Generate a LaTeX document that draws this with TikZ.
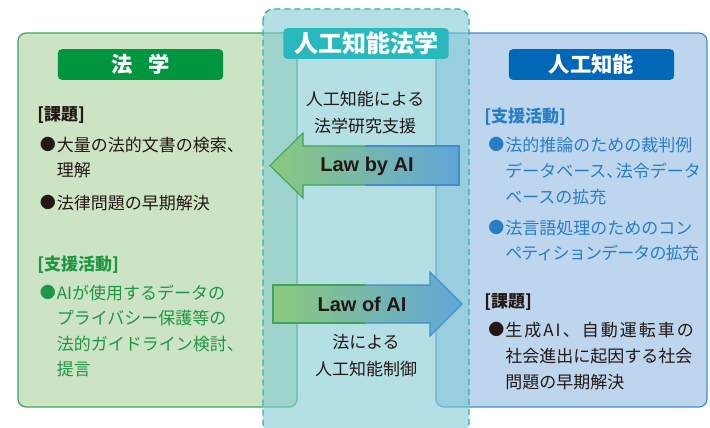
\documentclass[tikz,border=0pt]{standalone}
\usepackage{fontspec}
\setmainfont{Noto Sans CJK JP}
\newfontfamily\latinb{Liberation Sans}

\definecolor{verdeFondo}{RGB}{204,227,196}
\definecolor{verdeBorde}{RGB}{60,165,90}
\definecolor{verdeTitulo}{RGB}{0,150,64}
\definecolor{verdeTexto}{RGB}{30,150,70}
\definecolor{azulFondo}{RGB}{189,214,238}
\definecolor{azulBorde}{RGB}{70,140,200}
\definecolor{azulTitulo}{RGB}{0,104,183}
\definecolor{azulTexto}{RGB}{40,125,195}
\definecolor{turquesa}{RGB}{128,202,212}
\definecolor{turquesaBorde}{RGB}{40,180,180}
\definecolor{turquesaTitulo}{RGB}{40,184,190}
\definecolor{flechaVerde}{RGB}{140,200,126}
\definecolor{flechaAzul}{RGB}{96,166,217}
\definecolor{texto}{RGB}{35,24,21}

\newcommand{\punto}{\makebox[1em][l]{\raisebox{0.06em}{\fontsize{12}{12}\selectfont ●}}}

\tikzset{
  caja/.style={rounded corners=6pt, line width=0.9pt},
  titulo/.style={rounded corners=3pt, text=white, inner sep=0pt,
    minimum width=124pt, minimum height=23pt},
  rubro/.style={anchor=west, inner sep=0pt, font=\bfseries\fontsize{12.75}{19.2}\selectfont},
  linea/.style={anchor=west, align=left, inner sep=0pt, font=\fontsize{12.75}{19.2}\selectfont},
  nota/.style={align=center, inner sep=0pt, text=texto, font=\fontsize{12.75}{20.2}\selectfont},
  lema/.style={inner sep=0pt, text=texto, font=\latinb\bfseries\fontsize{15}{15}\selectfont},
  borde/.style={line width=0.8pt, line join=miter}
}

\begin{document}
\begin{tikzpicture}[x=0.75pt, y=-0.75pt]

    \useasboundingbox (0,0) rectangle (710,428);

    % Cajas laterales
    \draw[caja, fill=verdeFondo, draw=verdeBorde] (18,33) rectangle (297,407);
    \draw[caja, fill=azulFondo, draw=azulBorde] (436,33) rectangle (707,407);

    % Banda central
    \fill[turquesa, fill opacity=0.6, rounded corners=8pt] (263,9) rectangle (469,434);
    \draw[turquesaBorde, dashed, dash pattern=on 4.5pt off 3pt, line width=1pt,
      rounded corners=8pt] (263,9) rectangle (469,434);

    % Titulos
    \node[titulo, fill=turquesaTitulo, font=\bfseries\fontsize{18}{18}\selectfont]
      (tituloCentro) at (366,43.5) {人工知能法学};
    \node[titulo, fill=verdeTitulo, font=\bfseries\fontsize{16}{16}\selectfont]
      (tituloIzq) at (140.5,64.5) {法\hspace{0.75em}学};
    \node[titulo, fill=azulTitulo, font=\bfseries\fontsize{16}{16}\selectfont]
      (tituloDer) at (591.5,64.5) {人工知能};

    % Flecha Law by AI
    \shade[left color=flechaVerde, right color=flechaAzul]
      (459,146) -- (303,146) -- (303,133) -- (270,165.5) -- (303,198)
      -- (303,185) -- (459,185) -- cycle;
    \draw[borde, verdeBorde] (365,146) -- (303,146) -- (303,133) -- (270,165.5)
      -- (303,198) -- (303,185) -- (365,185);
    \draw[borde, azulBorde] (365,146) -- (459,146) -- (459,185) -- (365,185);
    \node[lema] (leyPorIA) at (367,166) {Law by AI};

    % Flecha Law of AI
    \shade[left color=flechaVerde, right color=flechaAzul]
      (273,285) -- (430,285) -- (430,272) -- (462,304) -- (430,336)
      -- (430,323) -- (273,323) -- cycle;
    \draw[borde, verdeBorde] (365,285) -- (273,285) -- (273,323) -- (365,323);
    \draw[borde, azulBorde] (365,285) -- (430,285) -- (430,272) -- (462,304)
      -- (430,336) -- (430,323) -- (365,323);
    \node[lema] (leyDeIA) at (362,304) {Law of AI};

    % Notas centrales
    \node[nota] (apoyo) at (365,112.5) {人工知能による\\法学研究支援};
    \node[nota] (control) at (366,356) {法による\\人工知能制御};

    % Texto izquierdo
    \node[rubro, text=texto] (problemaIzq) at (37,115) {[課題]};
    \node[linea, text=texto] (izqA) at (39.5,157.5)
      {\punto 大量の法的文書の検索、\\\hspace*{1em}理解};
    \node[linea, text=texto] (izqB) at (39.5,203) {\punto 法律問題の早期解決};
    \node[rubro, text=verdeTexto] (apoyoIzq) at (37,265) {[支援活動]};
    \node[linea, text=verdeTexto] (izqC) at (39.5,331)
      {\punto AIが使用するデータの\\\hspace*{1em}プライバシー保護等の\\
       \hspace*{1em}法的ガイドライン検討、\\\hspace*{1em}提言};

    % Texto derecho
    \node[rubro, text=azulTexto] (apoyoDer) at (484,117) {[支援活動]};
    \node[linea, text=azulTexto] (derA) at (488,171)
      {\punto 法的推論のための裁判例\\\hspace*{1em}データベース、\kern-0.45em 法令データ\\
       \hspace*{1em}ベースの拡充};
    \node[linea, text=azulTexto] (derB) at (488,240.5)
      {\punto 法言語処理のためのコン\\\hspace*{1em}{\addfontfeature{LetterSpace=-5}ペティションデータの拡充}};
    \node[rubro, text=texto] (problemaDer) at (484,302) {[課題]};
    \node[linea, text=texto] (derC) at (488,356)
      {\punto {\addfontfeature{LetterSpace=12}生成AI、自動運転車の}\\\hspace*{1em}社会進出に起因する社会\\
       \hspace*{1em}問題の早期解決};

\end{tikzpicture}
\end{document}
